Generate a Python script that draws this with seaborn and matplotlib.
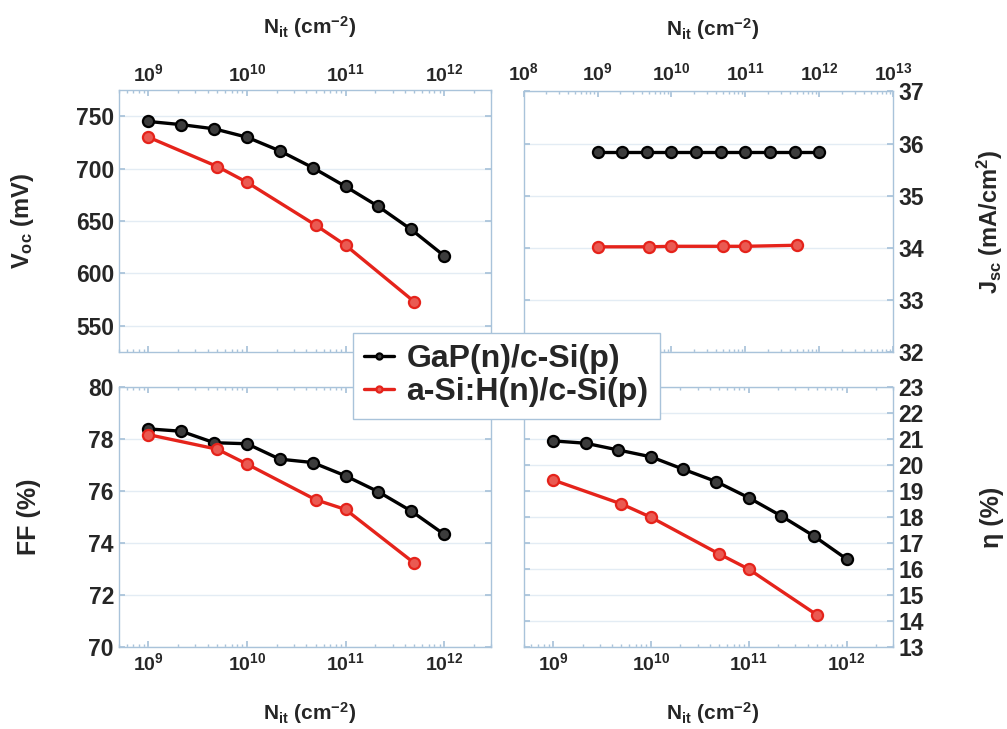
import matplotlib
matplotlib.use("Agg")
import matplotlib.pyplot as plt
import matplotlib.ticker as mticker
import pandas as pd
import seaborn as sns

# interface trap density (cm^-2)
nit_gap = [1e9, 2.15e9, 4.64e9, 1e10, 2.15e10, 4.64e10, 1e11, 2.15e11, 4.64e11, 1e12]
nit_asi = [1e9, 5e9, 1e10, 5e10, 1e11, 5e11]

voc_gap = [745, 742, 738, 730, 717, 701, 683, 664, 642, 617]
voc_asi = [730, 702, 687, 646, 627, 573]
jsc_gap = [35.83, 35.83, 35.83, 35.83, 35.83, 35.83, 35.83, 35.83, 35.83, 35.83]
jsc_asi = [34.02, 34.02, 34.03, 34.03, 34.03, 34.05]
ff_gap = [78.38, 78.29, 77.85, 77.81, 77.22, 77.09, 76.58, 75.97, 75.23, 74.34]
ff_asi = [78.16, 77.60, 77.03, 75.66, 75.29, 73.23]
eta_gap = [20.92, 20.83, 20.57, 20.31, 19.83, 19.36, 18.74, 18.04, 17.27, 16.39]
eta_asi = [19.42, 18.50, 17.99, 16.58, 16.00, 14.24]

labels = ["GaP(n)/c-Si(p)", "a-Si:H(n)/c-Si(p)"]

sns.set_theme(style="white")
plt.rcParams["font.family"] = ["Liberation Sans", "DejaVu Sans"]
plt.rcParams["font.weight"] = "bold"
plt.rcParams["mathtext.default"] = "regular"

spine_c = "#a9c3da"
grid_c = "#e3ecf4"
red = "#e5231b"
xlab = r"N$_{it}$ (cm$^{-2}$)"

fig = plt.figure(figsize=(10.07, 7.29), dpi=100)
ax_voc = fig.add_axes([0.118, 0.517, 0.3696, 0.3595])
ax_jsc = fig.add_axes([0.520, 0.517, 0.367, 0.3575])
ax_ff = fig.add_axes([0.118, 0.112, 0.3696, 0.3576])
ax_eta = fig.add_axes([0.520, 0.112, 0.367, 0.3576])


def draw(ax, y1, y2):
    d1 = pd.DataFrame({"x": nit_gap, "y": y1})
    d2 = pd.DataFrame({"x": nit_asi[:len(y2)], "y": y2})
    sns.lineplot(data=d1, x="x", y="y", ax=ax, color="black", lw=2.4, marker="o",
                 markersize=8, markerfacecolor="#3c3c3c", markeredgecolor="black",
                 markeredgewidth=1.6, label=labels[0], legend=False)
    sns.lineplot(data=d2, x="x", y="y", ax=ax, color=red, lw=2.4, marker="o",
                 markersize=8, markerfacecolor="#ea5a52", markeredgecolor=red,
                 markeredgewidth=1.6, label=labels[1], legend=False)
    ax.set_xscale("log")
    for s in ax.spines.values():
        s.set_color(spine_c)
        s.set_linewidth(1.0)
    ax.grid(axis="y", color=grid_c, lw=1.0)
    ax.tick_params(which="both", direction="in", color=spine_c, top=True, bottom=True,
                   left=True, right=True)
    ax.tick_params(axis="x", labelsize=14)
    ax.tick_params(axis="y", labelsize=16.5)
    ax.tick_params(which="major", length=4)
    ax.tick_params(which="minor", length=2.5)
    ax.xaxis.set_minor_locator(mticker.LogLocator(base=10, subs=range(2, 10), numticks=20))
    ax.set_xlabel(xlab, fontsize=15, fontweight="bold")


draw(ax_voc, voc_gap, voc_asi)
draw(ax_jsc, jsc_gap, jsc_asi)
draw(ax_ff, ff_gap, ff_asi)
draw(ax_eta, eta_gap, eta_asi)

dec4 = [1e9, 1e10, 1e11, 1e12]
for ax in [ax_voc, ax_ff, ax_eta]:
    ax.set_xlim(5e8, 3e12)
    ax.set_xticks(dec4)
ax_jsc.set_xlim(1e8, 1e13)
ax_jsc.set_xticks([1e8, 1e9, 1e10, 1e11, 1e12, 1e13])

ax_voc.set_ylim(525, 775)
ax_voc.set_yticks([550, 600, 650, 700, 750])
ax_jsc.set_ylim(32, 37)
ax_jsc.set_yticks([32, 33, 34, 35, 36, 37])
ax_ff.set_ylim(70, 80)
ax_ff.set_yticks([70, 72, 74, 76, 78, 80])
ax_eta.set_ylim(13, 23)
ax_eta.set_yticks(range(13, 24))

for ax in [ax_voc, ax_jsc]:
    ax.tick_params(labelbottom=False, labeltop=True)
    ax.xaxis.set_label_position("top")
    ax.xaxis.set_label_coords(0.512, 1.215)
ax_jsc.tick_params(axis="x", pad=5)
for ax in [ax_jsc, ax_eta]:
    ax.tick_params(labelleft=False, labelright=True)
    ax.yaxis.set_label_position("right")
for ax in [ax_ff, ax_eta]:
    ax.xaxis.set_label_coords(0.512, -0.202)

ax_voc.set_ylabel(r"V$_{oc}$ (mV)", fontsize=17, fontweight="bold")
ax_voc.yaxis.set_label_coords(-0.222, 0.5)
ax_ff.set_ylabel("FF (%)", fontsize=18, fontweight="bold")
ax_ff.yaxis.set_label_coords(-0.21, 0.5)
ax_jsc.set_ylabel(r"J$_{sc}$ (mA/cm$^{2}$)", fontsize=17, fontweight="bold", rotation=90)
ax_jsc.yaxis.set_label_coords(1.222, 0.5)
ax_eta.set_ylabel("η (%)", fontsize=18, fontweight="bold", rotation=90)
ax_eta.yaxis.set_label_coords(1.235, 0.5)

for ax in fig.axes:
    for t in ax.get_xticklabels() + ax.get_yticklabels():
        t.set_fontweight("bold")

handles, _ = ax_voc.get_legend_handles_labels()
leg = fig.legend(handles, labels, loc="upper left", bbox_to_anchor=(0.3505, 0.5432),
                 frameon=True, fancybox=False, handlelength=0.95,
                 handletextpad=0.37, borderpad=0.35, labelspacing=0.1, markerscale=0.55,
                 borderaxespad=0, prop={"weight": "bold", "size": 23})
leg.get_frame().set_edgecolor(spine_c)
leg.get_frame().set_linewidth(1.0)
leg.get_frame().set_alpha(1)

fig.savefig("out.png", dpi=100)
